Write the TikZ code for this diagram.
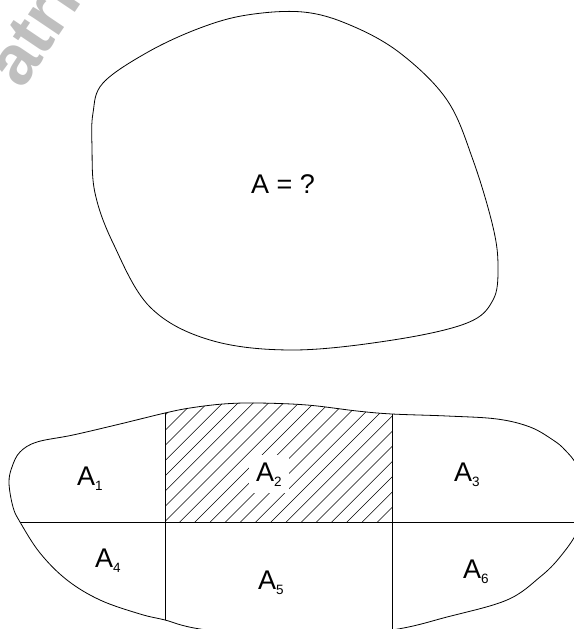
\documentclass[tikz,border=0pt]{standalone}
\usepackage{fontspec}
\setmainfont{Liberation Sans}
\newcommand{\Sb}[1]{\raisebox{-5pt}{\fontsize{13.5}{14}\selectfont #1}}
\tikzset{
  outline/.style={line width=0.8pt, black},
  divline/.style={line width=0.8pt, black},
  hatchline/.style={line width=0.55pt, black},
  lbl/.style={anchor=base west, inner sep=0pt, font=\fontsize{27}{30}\selectfont},
  wm/.style={anchor=base west, inner sep=0pt, text=black!25, font=\fontsize{70}{80}\selectfont\bfseries}
}
\begin{document}
\begin{tikzpicture}[x=1pt, y=-1pt]
\useasboundingbox (0,0) rectangle (573,629);
% watermark fragment
\node[wm, rotate=56] (wmark) at (22,91) {atri};
% top blob
\draw[outline] plot[smooth cycle, tension=0.6] coordinates {
  (303,12) (350,25) (400,53) (447,100) (473,160) (493,227) (498,267) (493,300)
  (467,323) (393,340) (293,350) (210,340) (150,307) (113,243) (95,193) (92,147)
  (93,113) (103,83) (148,52) (200,28) (247,15)};
\node[lbl] (q) at (251,193) {A = ?};
% bottom shape: internal lines and hatch
\begin{scope}
  \clip plot[smooth cycle, tension=0.6] coordinates {
    (9,483) (13,507) (20,522) (40,553) (67,580) (100,600) (140,614) (165,620)
    (200,629) (295,641) (392,630) (447,617) (507,600) (540,577) (560,557)
    (578,530) (586,497) (577,466) (565,450) (553,440) (530,427) (497,419)
    (447,416) (392,414) (357,411) (307,405) (257,403) (223,404) (190,408)
    (165,413) (120,424) (73,435) (37,442) (20,452) (12,467)};
  \begin{scope}
    \clip (165,380) rectangle (392,522);
    \foreach \k in {0,...,24} {
      \pgfmathsetmacro\c{565+15.2*\k}
      \draw[hatchline] ({\c-530},530) -- ({\c-380},380);
    }
  \end{scope}
  \draw[divline] (0,522) -- (600,522);
  \draw[divline] (165,380) -- (165,660);
  \draw[divline] (392,380) -- (392,660);
\end{scope}
\draw[outline] plot[smooth cycle, tension=0.6] coordinates {
    (9,483) (13,507) (20,522) (40,553) (67,580) (100,600) (140,614) (165,620)
    (200,629) (295,641) (392,630) (447,617) (507,600) (540,577) (560,557)
    (578,530) (586,497) (577,466) (565,450) (553,440) (530,427) (497,419)
    (447,416) (392,414) (357,411) (307,405) (257,403) (223,404) (190,408)
    (165,413) (120,424) (73,435) (37,442) (20,452) (12,467)};
% labels
\node[lbl] (a1) at (77,485) {A\Sb{1}};
\node[lbl, fill=white, inner sep=7pt] (a2) at (249,481) {A\Sb{2}};
\node[lbl] (a3) at (454,481) {A\Sb{3}};
\node[lbl] (a4) at (95,567) {A\Sb{4}};
\node[lbl] (a5) at (258,589) {A\Sb{5}};
\node[lbl] (a6) at (463,578) {A\Sb{6}};
\end{tikzpicture}
\end{document}
